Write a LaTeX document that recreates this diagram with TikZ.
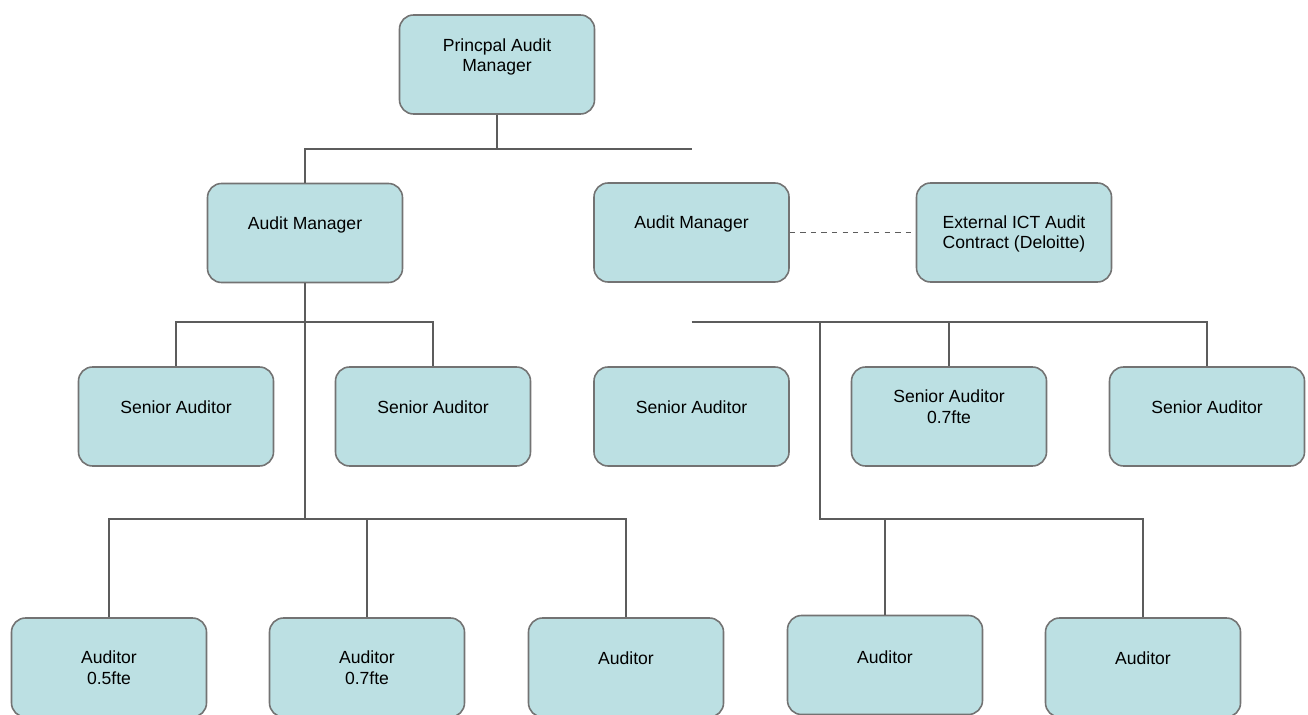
\documentclass[tikz,border=0pt]{standalone}
\usepackage{fontspec}
\setmainfont{Liberation Sans}
\usetikzlibrary{positioning, calc}
\definecolor{boxfill}{HTML}{BCE0E3}
\definecolor{boxline}{HTML}{737373}
\definecolor{wire}{HTML}{5C5C5C}

\begin{document}
\begin{tikzpicture}[font=\fontsize{10}{11.5}\selectfont,
  post/.style={rectangle, draw=boxline, line width=0.9pt, rounded corners=8pt, fill=boxfill,
               minimum width=3.9cm, minimum height=1.98cm, inner sep=0.1cm, align=center,
               text height=0.82cm, text depth=0.96cm},
  twoline/.style={text height=1.22cm, text depth=0.56cm},
  link/.style={draw=wire, line width=1.1pt},
  contract/.style={draw=wire, line width=0.8pt, dashed}]
  \useasboundingbox (0,0) rectangle (26.16,-14.3);

  \node[post, text height=1.04cm, text depth=0.74cm] (pam) at (9.94,-1.29) {Princpal Audit\\Manager};
  \node[post] (am1) at (6.10,-4.66) {Audit Manager};
  \node[post] (am2) at (13.83,-4.65) {Audit Manager};
  \node[post, twoline] (ext) at (20.28,-4.65) {External ICT Audit\\Contract (Deloitte)};

  \node[post] (sa1) at (3.52,-8.33) {Senior Auditor};
  \node[post] (sa2) at (8.66,-8.33) {Senior Auditor};
  \node[post] (sa3) at (13.83,-8.33) {Senior Auditor};
  \node[post, text height=1.02cm, text depth=0.76cm] (sa4) at (18.98,-8.33) {Senior Auditor\\0.7fte};
  \node[post] (sa5) at (24.14,-8.33) {Senior Auditor};

  \node[post, twoline] (a1) at (2.18,-13.35) {Auditor\\0.5fte};
  \node[post, twoline] (a2) at (7.34,-13.35) {Auditor\\0.7fte};
  \node[post] (a3) at (12.52,-13.35) {Auditor};
  \node[post, text height=0.86cm, text depth=0.92cm] (a4) at (17.70,-13.30) {Auditor};
  \node[post] (a5) at (22.86,-13.35) {Auditor};

  \draw[link] (pam.south) -- ++(0,-0.68) coordinate (pj);
  \draw[link] (am1.north) |- (am2.north |- pj);
  \draw[contract] (am2.east) -- (ext.west);

  \draw[link] (am1.south) -- ++(0,-4.71) coordinate (lj);
  \draw[link] (sa1.north) -- ++(0,0.88) -| (sa2.north);
  \draw[link] (a1.north) |- (a3.north |- lj) -- (a3.north);
  \draw[link] (a2.north) -- (a2.north |- lj);

  \coordinate (rj) at ([yshift=0.88cm]sa3.north);
  \coordinate (rv) at (16.4,-6.46);
  \draw[link] (rj) -| (sa5.north);
  \draw[link] (sa4.north) -- (sa4.north |- rj);
  \draw[link] (rv) |- (a5.north |- lj) -- (a5.north);
  \draw[link] (a4.north) -- (a4.north |- lj);
\end{tikzpicture}
\end{document}
